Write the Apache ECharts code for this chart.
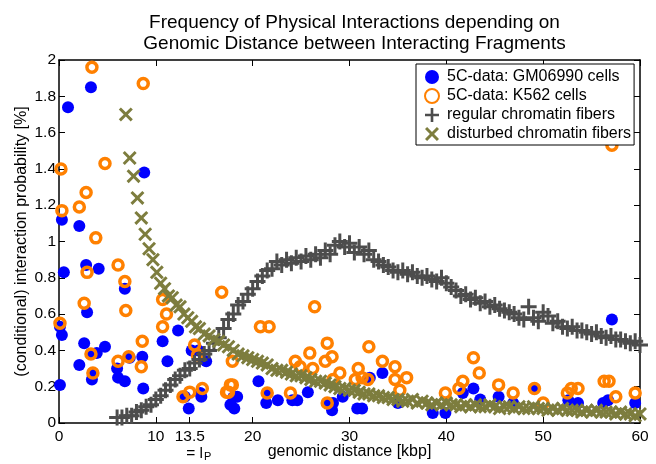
<!DOCTYPE html>
<html>
<head>
<meta charset="utf-8">
<script src="https://cdn.jsdelivr.net/npm/echarts@6/dist/echarts.min.js"></script>
<style>
html,body{margin:0;padding:0;background:#fff;}
#chart{width:656px;height:464px;}
</style>
</head>
<body>
<div id="chart"></div>
<script>
// ---- data ----
var xTickValues = [0, 10, 13.5, 20, 30, 40, 50, 60];

var gmPoints = [
  [0.1,0.21],[0.1,0.53],[0.3,0.485],[0.3,1.12],[0.5,0.83],[0.93,1.74],[2.1,1.085],[2.1,0.32],
  [2.6,0.44],[2.8,0.87],[2.9,0.61],[3.3,1.85],[3.3,0.38],[3.4,0.24],[3.5,0.275],[3.9,0.385],
  [4.1,0.85],[4.75,0.42],[6.0,0.30],[6.1,0.25],[6.8,0.74],[6.8,0.23],[7.3,0.36],[8.6,0.365],
  [8.7,0.19],[8.8,1.38],[10.7,0.45],[11.2,0.34],[12.3,0.51],[13.0,0.145],[13.4,0.08],[13.7,0.40],
  [14.4,0.40],[14.6,0.165],[14.7,0.145],[15.2,0.34],[17.7,0.10],[18.1,0.08],[18.4,0.145],[18.0,0.14],
  [20.6,0.23],[21.4,0.11],[21.5,0.165],[22.6,0.125],[24.1,0.125],[24.6,0.125],[25.7,0.17],[27.7,0.11],
  [28.2,0.07],[28.3,0.11],[29.3,0.145],[30.8,0.08],[31.3,0.08],[32.1,0.25],[33.4,0.275],[35.0,0.11],
  [38.6,0.055],[39.9,0.055],[41.7,0.165],[42.8,0.19],[43.5,0.13],[45.4,0.145],[46.9,0.11],[49.1,0.19],
  [52.6,0.125],[53.6,0.11],[56.2,0.11],[56.7,0.125],[57.1,0.57],[59.5,0.11]
];

var k562Points = [
  [0.1,0.55],[0.2,1.40],[0.3,1.17],[2.1,1.19],[2.6,0.66],[2.8,1.27],[2.9,0.83],[3.3,0.38],
  [3.4,1.96],[3.5,0.275],[3.8,1.02],[4.75,1.43],[6.1,0.87],[6.1,0.34],[6.8,0.78],[6.9,0.62],
  [7.2,0.365],[8.5,0.31],[8.6,0.45],[8.7,1.87],[10.7,0.68],[11.1,0.60],[10.7,0.53],[12.8,0.145],
  [13.5,0.17],[14.0,0.43],[14.3,0.375],[14.8,0.19],[16.8,0.72],[17.3,0.17],[17.5,0.17],[17.7,0.21],
  [17.9,0.21],[17.9,0.34],[20.8,0.53],[21.7,0.53],[21.5,0.165],[23.9,0.165],[24.4,0.34],[24.9,0.31],
  [25.9,0.385],[26.2,0.30],[26.4,0.64],[27.5,0.34],[27.7,0.44],[27.7,0.11],[28.2,0.365],[28.3,0.24],
  [29.0,0.275],[30.6,0.24],[30.9,0.30],[31.3,0.25],[31.9,0.24],[32.0,0.42],[33.4,0.34],[34.7,0.31],
  [34.7,0.24],[35.2,0.18],[35.9,0.25],[39.9,0.165],[41.3,0.19],[41.7,0.23],[42.8,0.36],[43.4,0.275],
  [45.4,0.21],[46.9,0.165],[49.1,0.19],[50.0,0.11],[52.5,0.165],[52.9,0.19],[53.6,0.19],[56.3,0.23],
  [56.8,0.23],[57.5,0.145],[59.5,0.165],[57.1,1.53]
];

var regularX = [
  6,6.5,7,7.5,8,8.5,9,9.5,10,10.5,11,11.5,12,12.5,13,13.5,14,14.5,15,15.5,
  16,16.5,17,17.5,18,18.5,19,19.5,20,20.5,21,21.5,22,22.5,23,23.5,24,24.5,25,25.5,
  26,26.5,27,27.5,28,28.5,29,29.5,30,30.5,31,31.5,32,32.5,33,33.5,34,34.5,35,35.5,
  36,36.5,37,37.5,38,38.5,39,39.5,40,40.5,41,41.5,42,42.5,43,43.5,44,44.5,45,45.5,
  46,46.5,47,47.5,48,48.5,49,49.5,50,50.5,51,51.5,52,52.5,53,53.5,54,54.5,55,55.5,
  56,56.5,57,57.5,58,58.5,59,59.5,60
];
var regularY = [
  0.03,0.03,0.04,0.04,0.06,0.07,0.09,0.10,0.13,0.15,0.18,0.21,0.24,0.26,0.29,0.30,0.33,0.35,0.38,0.40,
  0.44,0.47,0.52,0.57,0.60,0.65,0.67,0.71,0.74,0.78,0.81,0.84,0.85,0.89,0.87,0.90,0.88,0.91,0.89,0.92,
  0.90,0.93,0.91,0.95,0.93,0.98,1.00,0.97,0.99,0.94,0.97,0.93,0.95,0.90,0.89,0.87,0.86,0.84,0.83,0.84,
  0.82,0.83,0.81,0.80,0.81,0.79,0.78,0.80,0.77,0.75,0.73,0.70,0.71,0.68,0.69,0.66,0.67,0.64,0.65,0.63,
  0.62,0.61,0.60,0.58,0.57,0.64,0.58,0.56,0.61,0.59,0.55,0.56,0.53,0.52,0.53,0.51,0.51,0.50,0.49,0.50,
  0.48,0.47,0.48,0.46,0.46,0.45,0.44,0.45,0.43
];

var disturbedX = [
  6.9,7.3,7.7,8.1,8.5,8.9,9.3,9.7,10.1,10.5,10.9,11.3,11.7,12.1,12.5,12.9,13.3,13.7,14.1,14.5,
  15,15.5,16,16.5,17,17.5,18,18.5,19,19.5,20,20.5,21,21.5,22,22.5,23,23.5,24,24.5,
  25,25.5,26,26.5,27,27.5,28,28.5,29,29.5,30,30.5,31,31.5,32,32.5,33,33.5,34,34.5,
  35,35.5,36,36.5,37,37.5,38,38.5,39,39.5,40,40.5,41,41.5,42,42.5,43,43.5,44,44.5,
  45,45.5,46,46.5,47,47.5,48,48.5,49,49.5,50,50.5,51,51.5,52,52.5,53,53.5,54,54.5,
  55,55.5,56,56.5,57,57.5,58,58.5,59,59.5,60
];
var disturbedY = [
  1.70,1.46,1.36,1.24,1.13,1.04,0.96,0.90,0.83,0.77,0.74,0.70,0.69,0.65,0.64,0.60,0.58,0.56,0.53,0.52,
  0.49,0.48,0.46,0.45,0.43,0.42,0.40,0.38,0.37,0.36,0.35,0.34,0.33,0.32,0.30,0.29,0.29,0.28,0.27,0.26,
  0.26,0.25,0.24,0.23,0.23,0.22,0.21,0.20,0.19,0.19,0.18,0.18,0.17,0.16,0.16,0.15,0.15,0.14,0.14,0.13,
  0.13,0.12,0.12,0.13,0.11,0.12,0.11,0.10,0.11,0.10,0.11,0.10,0.10,0.09,0.10,0.09,0.10,0.09,0.09,0.10,
  0.09,0.08,0.09,0.09,0.08,0.09,0.08,0.08,0.09,0.08,0.08,0.07,0.08,0.07,0.08,0.07,0.07,0.07,0.06,0.07,
  0.06,0.07,0.06,0.06,0.06,0.05,0.06,0.05,0.05,0.04,0.05
];

// ---- chart ----
function zip(xs, ys) { return xs.map(function (x, i) { return [x, ys[i]]; }); }

var FONT = '"Liberation Sans", Arial, Helvetica, sans-serif';
var PLUS = 'path://M6.5,0H9.5V6.5H16V9.5H9.5V16H6.5V9.5H0V6.5H6.5Z';
var CROSS = 'path://M0,2.4L2.4,0L8,5.6L13.6,0L16,2.4L10.4,8L16,13.6L13.6,16L8,10.4L2.4,16L0,13.6L5.6,8Z';

var chart = echarts.init(document.getElementById('chart'), null, {renderer: 'canvas'});

chart.setOption({
  backgroundColor: '#ffffff',
  animation: false,
  textStyle: {fontFamily: FONT},
  title: {
    text: 'Frequency of Physical Interactions depending on\nGenomic Distance between Interacting Fragments',
    left: 349.5,
    top: 7,
    textAlign: 'center',
    textStyle: {fontFamily: FONT, fontSize: 19, fontWeight: 'normal', color: '#000', lineHeight: 21}
  },
  grid: {left: 59, right: 16, top: 60, bottom: 41, containLabel: false, outerBoundsMode: 'none'},
  legend: {
    orient: 'vertical',
    left: 416,
    top: 64,
    padding: [5, 3, 3, 8],
    itemGap: 3,
    itemWidth: 16,
    itemHeight: 14,
    backgroundColor: '#ffffff',
    borderColor: '#000000',
    borderWidth: 1,
    borderRadius: 0,
    textStyle: {fontFamily: FONT, fontSize: 16, color: '#000', lineHeight: 14, padding: [0,0,0,2]},
    data: ['5C-data: GM06990 cells', '5C-data: K562 cells', 'regular chromatin fibers', 'disturbed chromatin fibers']
  },
  xAxis: [{
    type: 'value', min: 0, max: 60, interval: 10,
    position: 'bottom',
    name: 'genomic distance [kbp]', nameLocation: 'middle', nameGap: 21, nameMoveOverlap: false,
    nameTextStyle: {fontFamily: FONT, fontSize: 16, color: '#000'},
    axisLine: {show: true, onZero: false, lineStyle: {color: '#000', width: 1.5}},
    axisTick: {show: true, inside: true, length: 6, customValues: xTickValues, lineStyle: {color: '#000', width: 1}},
    axisLabel: {
      show: true, margin: 6, color: '#000', fontFamily: FONT, fontSize: 15.5,
      customValues: xTickValues, hideOverlap: false,
      formatter: function (v) {
        if (Math.abs(v - 13.5) < 1e-6) return '13.5\n{e|= l}{p|P}';
        return String(v);
      },
      rich: {
        e: {fontFamily: FONT, fontSize: 15.5, color: '#000', padding: [0, 0, 0, 18], lineHeight: 17},
        p: {fontFamily: FONT, fontSize: 11, color: '#000', padding: [7, 0, 0, 1], lineHeight: 17}
      }
    },
    splitLine: {show: false}
  }, {
    type: 'value', min: 0, max: 60, interval: 10,
    position: 'top',
    axisLine: {show: true, onZero: false, lineStyle: {color: '#000', width: 1.5}},
    axisTick: {show: true, inside: true, length: 6, lineStyle: {color: '#000', width: 1}},
    axisLabel: {show: false},
    splitLine: {show: false}
  }],
  yAxis: [{
    type: 'value', min: 0, max: 2, interval: 0.2,
    position: 'left',
    name: '(conditional) interaction probability [%]', nameLocation: 'middle', nameGap: 29, nameMoveOverlap: false,
    nameTextStyle: {fontFamily: FONT, fontSize: 16, color: '#000'},
    axisLine: {show: true, onZero: false, lineStyle: {color: '#000', width: 1.5}},
    axisTick: {show: true, inside: true, length: 6, lineStyle: {color: '#000', width: 1}},
    axisLabel: {show: true, margin: 3, color: '#000', fontFamily: FONT, fontSize: 15.5},
    splitLine: {show: false}
  }, {
    type: 'value', min: 0, max: 2, interval: 0.2,
    position: 'right',
    axisLine: {show: true, onZero: false, lineStyle: {color: '#000', width: 1.5}},
    axisTick: {show: true, inside: true, length: 6, lineStyle: {color: '#000', width: 1}},
    axisLabel: {show: false},
    splitLine: {show: false}
  }],
  series: [{
    name: '5C-data: GM06990 cells',
    type: 'scatter', xAxisIndex: 0, yAxisIndex: 0,
    symbol: 'circle', symbolSize: 12,
    itemStyle: {color: '#0000ff', opacity: 1},
    data: gmPoints
  }, {
    name: '5C-data: K562 cells',
    type: 'scatter', xAxisIndex: 0, yAxisIndex: 0,
    symbol: 'circle', symbolSize: 10,
    itemStyle: {color: 'rgba(255,255,255,0)', borderColor: '#ff8000', borderWidth: 3.5, opacity: 1},
    data: k562Points
  }, {
    name: 'regular chromatin fibers',
    type: 'scatter', xAxisIndex: 0, yAxisIndex: 0,
    symbol: PLUS, symbolSize: 16,
    itemStyle: {color: '#4d4d4d', opacity: 1},
    data: zip(regularX, regularY)
  }, {
    name: 'disturbed chromatin fibers',
    type: 'scatter', xAxisIndex: 0, yAxisIndex: 0,
    symbol: CROSS, symbolSize: 14,
    itemStyle: {color: '#7d7d3e', opacity: 1},
    data: zip(disturbedX, disturbedY)
  }]
});
</script>
</body>
</html>
